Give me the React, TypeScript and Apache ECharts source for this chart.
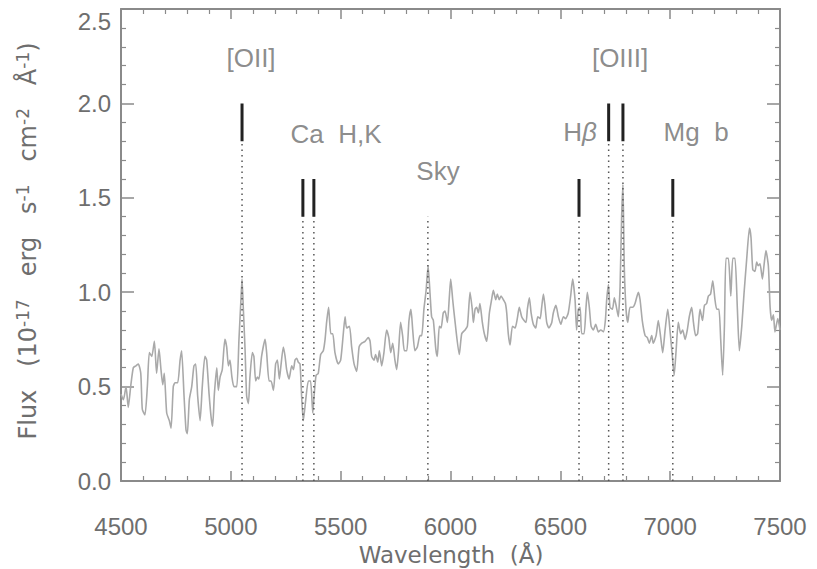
import React, { useEffect, useRef } from "react";
import * as echarts from "echarts";

// Observed spectrum: wavelength (Å) and flux (10^-17 erg s^-1 cm^-2 Å^-1)
const wavelength = [
  4500, 4511, 4523, 4533, 4544, 4556, 4568, 4579, 4590, 4597, 4609, 4620, 4629, 4640, 4652, 4662, 4673, 4682, 4690, 4697,
  4708, 4720, 4728, 4738, 4746, 4758, 4769, 4776, 4787, 4796, 4802, 4811, 4822, 4832, 4840, 4849, 4860, 4870, 4882, 4890,
  4901, 4910, 4917, 4925, 4936, 4943, 4951, 4961, 4973, 4981, 4989, 4996, 5005, 5014, 5027, 5037, 5046, 5051, 5057, 5065,
  5072, 5080, 5087, 5098, 5105, 5113, 5121, 5128, 5140, 5156, 5163, 5174, 5183, 5194, 5204, 5212, 5221, 5228, 5239, 5247,
  5254, 5265, 5277, 5285, 5292, 5300, 5307, 5315, 5323, 5330, 5341, 5353, 5363, 5373, 5379, 5388, 5398, 5409, 5421, 5429,
  5436, 5445, 5455, 5464, 5474, 5489, 5500, 5512, 5520, 5527, 5540, 5550, 5561, 5573, 5584, 5596, 5611, 5626, 5634, 5641,
  5652, 5659, 5669, 5676, 5687, 5697, 5709, 5719, 5728, 5737, 5747, 5755, 5763, 5773, 5782, 5790, 5801, 5811, 5820, 5828,
  5838, 5849, 5861, 5869, 5879, 5889, 5898, 5907, 5914, 5922, 5933, 5940, 5949, 5957, 5967, 5975, 5986, 5995, 6001, 6010,
  6021, 6040, 6051, 6066, 6077, 6089, 6099, 6104, 6112, 6119, 6127, 6134, 6145, 6154, 6165, 6177, 6187, 6195, 6206, 6213,
  6222, 6230, 6241, 6250, 6256, 6263, 6271, 6282, 6294, 6304, 6313, 6324, 6335, 6344, 6350, 6359, 6367, 6377, 6388, 6397,
  6408, 6415, 6423, 6430, 6438, 6448, 6461, 6468, 6480, 6491, 6502, 6514, 6524, 6536, 6547, 6556, 6567, 6574, 6582, 6590,
  6597, 6608, 6617, 6623, 6632, 6640, 6650, 6661, 6673, 6684, 6696, 6705, 6711, 6719, 6726, 6737, 6746, 6757, 6764, 6772,
  6779, 6785, 6791, 6799, 6807, 6817, 6829, 6840, 6855, 6863, 6873, 6886, 6896, 6905, 6916, 6923, 6936, 6946, 6957, 6966,
  6977, 6989, 6999, 7010, 7018, 7027, 7037, 7048, 7057, 7068, 7078, 7087, 7098, 7106, 7116, 7125, 7136, 7147, 7156, 7166,
  7174, 7184, 7194, 7204, 7212, 7222, 7230, 7239, 7247, 7254, 7265, 7276, 7285, 7295, 7306, 7315, 7326, 7336, 7348, 7361,
  7368, 7376, 7386, 7394, 7401, 7409, 7420, 7427, 7436, 7447, 7455, 7462, 7470, 7477, 7490, 7500,
];
const flux = [
  0.46, 0.43, 0.5, 0.39, 0.5, 0.6, 0.61, 0.62, 0.57, 0.38, 0.35, 0.5, 0.68, 0.66, 0.74, 0.57, 0.7, 0.59, 0.51, 0.57,
  0.36, 0.32, 0.28, 0.5, 0.52, 0.52, 0.64, 0.69, 0.45, 0.27, 0.25, 0.43, 0.5, 0.61, 0.62, 0.45, 0.32, 0.5, 0.66, 0.64,
  0.46, 0.34, 0.29, 0.46, 0.6, 0.48, 0.55, 0.59, 0.75, 0.71, 0.61, 0.64, 0.55, 0.5, 0.5, 0.75, 0.96, 1.07, 0.91, 0.69,
  0.45, 0.41, 0.55, 0.68, 0.66, 0.53, 0.55, 0.54, 0.66, 0.75, 0.68, 0.53, 0.53, 0.48, 0.62, 0.64, 0.54, 0.61, 0.71, 0.66,
  0.59, 0.54, 0.61, 0.59, 0.64, 0.65, 0.63, 0.62, 0.43, 0.32, 0.43, 0.53, 0.53, 0.36, 0.45, 0.56, 0.57, 0.67, 0.69, 0.75,
  0.84, 0.92, 0.78, 0.78, 0.68, 0.62, 0.64, 0.78, 0.87, 0.81, 0.82, 0.71, 0.62, 0.58, 0.71, 0.73, 0.74, 0.76, 0.74, 0.66,
  0.64, 0.67, 0.63, 0.69, 0.61, 0.68, 0.8, 0.76, 0.68, 0.73, 0.64, 0.59, 0.68, 0.84, 0.77, 0.69, 0.69, 0.85, 0.91, 0.8,
  0.69, 0.71, 0.77, 0.77, 0.91, 1.01, 1.14, 0.99, 0.87, 0.85, 0.7, 0.66, 0.82, 0.81, 0.89, 0.9, 0.84, 0.98, 1.07, 0.96,
  0.84, 0.67, 0.78, 0.8, 0.82, 1.0, 0.91, 0.84, 0.91, 0.92, 0.89, 0.94, 0.84, 0.78, 0.74, 0.89, 0.96, 1.01, 0.96, 0.99,
  0.96, 0.98, 0.96, 0.94, 0.89, 0.78, 0.72, 0.82, 0.81, 0.86, 0.92, 0.87, 0.85, 0.84, 0.91, 0.97, 0.89, 0.83, 0.81, 0.87,
  0.86, 0.92, 0.99, 0.93, 0.84, 0.81, 0.84, 0.89, 0.93, 0.87, 0.83, 0.87, 0.86, 0.89, 0.98, 1.07, 0.96, 0.8, 0.91, 0.92,
  0.78, 0.78, 0.92, 1.0, 0.92, 0.82, 0.8, 0.83, 0.79, 0.8, 0.79, 0.85, 0.96, 1.04, 0.92, 0.91, 0.97, 0.91, 0.87, 1.03,
  1.4, 1.57, 1.14, 0.91, 0.84, 0.92, 0.92, 0.94, 1.0, 0.96, 0.85, 0.77, 0.76, 0.73, 0.77, 0.73, 0.77, 0.85, 0.76, 0.68,
  0.8, 0.91, 0.8, 0.66, 0.56, 0.69, 0.84, 0.78, 0.8, 0.75, 0.8, 0.87, 0.92, 0.84, 0.77, 0.78, 0.91, 0.85, 0.93, 0.94,
  0.98, 0.99, 1.06, 0.96, 0.91, 0.91, 0.75, 0.56, 0.82, 1.18, 1.18, 0.98, 1.18, 1.18, 0.91, 0.69, 0.82, 0.99, 1.17, 1.34,
  1.29, 1.12, 1.11, 1.16, 1.14, 1.15, 1.07, 1.14, 1.22, 1.14, 0.92, 0.85, 0.88, 0.79, 0.86, 0.8,
];

// Spectral line identifications: observed wavelength, top and base of the solid tick
const lineWavelengths = [5051, 5328, 5378, 5897, 6585, 6720, 6785, 7012];
const tickTop = [2.0, 1.6, 1.6, 1.4, 1.6, 2.0, 2.0, 1.6];
const tickBase = [1.8, 1.4, 1.4, 1.4, 1.4, 1.8, 1.8, 1.4];

// Line labels and where they sit (wavelength, flux)
const labelNames = ["[OII]", "Ca  H,K", "Sky", "Hβ", "[OIII]", "Mg  b"];
const labelWavelengths = [5092, 5479, 5943, 6590, 6772, 7118];
const labelFlux = [2.24, 1.84, 1.64, 1.85, 2.24, 1.85];

const AXIS = "#8a8a8a";
const TEXT = "#6e6e6e";
const FONT = "Liberation Sans";

export default function App() {
  const ref = useRef<HTMLDivElement>(null);

  useEffect(() => {
    if (!ref.current) return;
    const chart = echarts.init(ref.current, null, { renderer: "svg" });

    const spectrum = wavelength.map((w, i) => [w, flux[i]]);

    const markerSeries: any[] = [];
    lineWavelengths.forEach((w, i) => {
      markerSeries.push({
        type: "line",
        data: [
          [w, 0],
          [w, tickBase[i]],
        ],
        showSymbol: false,
        silent: true,
        lineStyle: { color: "#555", width: 1.5, type: [1.5, 4] },
        z: 3,
      });
      if (tickTop[i] > tickBase[i]) {
        markerSeries.push({
          type: "line",
          data: [
            [w, tickBase[i]],
            [w, tickTop[i]],
          ],
          showSymbol: false,
          silent: true,
          lineStyle: { color: "#222", width: 3 },
          z: 4,
        });
      }
    });

    const axisCommon = {
      type: "value" as const,
      axisLine: { show: true, onZero: false, lineStyle: { color: AXIS, width: 2 } },
      splitLine: { show: false },
      minorSplitLine: { show: false },
    };

    chart.setOption({
      animation: false,
      grid: { left: 121, right: 37, top: 9, bottom: 88, containLabel: false, outerBoundsMode: "none" },
      xAxis: [
        {
          ...axisCommon,
          position: "bottom",
          min: 4500,
          max: 7500,
          interval: 500,
          axisTick: { inside: true, length: 10, lineStyle: { color: AXIS, width: 1.5 } },
          minorTick: { show: true, splitNumber: 5, length: 5, lineStyle: { color: AXIS, width: 1.2 } },
          axisLabel: { color: TEXT, fontSize: 24, fontFamily: FONT, margin: 33, formatter: (v: number) => String(v) },
        },
        {
          ...axisCommon,
          position: "top",
          min: 4500,
          max: 7500,
          interval: 500,
          axisTick: { inside: true, length: 10, lineStyle: { color: AXIS, width: 1.5 } },
          minorTick: { show: true, splitNumber: 5, length: 5, lineStyle: { color: AXIS, width: 1.2 } },
          axisLabel: { show: false },
        },
      ],
      yAxis: [
        {
          ...axisCommon,
          position: "left",
          min: 0,
          max: 2.5,
          interval: 0.5,
          axisTick: { inside: true, length: 13, lineStyle: { color: AXIS, width: 1.5 } },
          minorTick: { show: true, splitNumber: 5, length: 5, lineStyle: { color: AXIS, width: 1.2 } },
          axisLabel: {
            color: TEXT,
            fontSize: 24,
            fontFamily: FONT,
            margin: 10,
            verticalAlignMaxLabel: "top",
            formatter: (v: number) => v.toFixed(1),
          },
        },
        {
          ...axisCommon,
          position: "right",
          min: 0,
          max: 2.5,
          interval: 0.5,
          axisTick: { inside: true, length: 13, lineStyle: { color: AXIS, width: 1.5 } },
          minorTick: { show: true, splitNumber: 5, length: 5, lineStyle: { color: AXIS, width: 1.2 } },
          axisLabel: { show: false },
        },
      ],
      graphic: [
        {
          type: "text",
          x: 451,
          y: 555,
          style: {
            text: "Wavelength  (Å)",
            fill: TEXT,
            fontSize: 23,
            fontFamily: "DejaVu Sans",
            align: "center",
            verticalAlign: "middle",
          },
        },
        {
          type: "text",
          x: 28,
          y: 241,
          rotation: Math.PI / 2,
          style: {
            text: "Flux   (10{sup|-17}   erg   s{sup|-1}   cm{sup|-2}   Å{sup|-1})",
            fill: TEXT,
            fontSize: 24,
            fontFamily: "DejaVu Sans",
            align: "center",
            verticalAlign: "middle",
            rich: {
              sup: { fontSize: 17, fill: TEXT, fontFamily: "DejaVu Sans", verticalAlign: "top", lineHeight: 28 },
            },
          },
        },
      ],
      series: [
        {
          type: "line",
          data: spectrum,
          showSymbol: false,
          silent: true,
          smooth: 0.2,
          lineStyle: { color: "#a9a9a9", width: 1.6 },
          z: 2,
        },
        ...markerSeries,
        {
          type: "scatter",
          symbolSize: 0,
          silent: true,
          data: labelNames.map((n, i) => ({ name: n, value: [labelWavelengths[i], labelFlux[i]] })),
          label: {
            show: true,
            position: "inside",
            color: TEXT,
            fontSize: 26,
            fontFamily: FONT,
            formatter: (p: any) => String(p.name).replace("β", "{i|β}"),
            rich: { i: { fontStyle: "italic", fontSize: 26, fontFamily: FONT, color: TEXT } },
          },
          z: 5,
        },
      ],
    });

    return () => chart.dispose();
  }, []);

  return <div ref={ref} style={{ position: "absolute", left: 0, top: 0, width: 817, height: 569 }} />;
}
